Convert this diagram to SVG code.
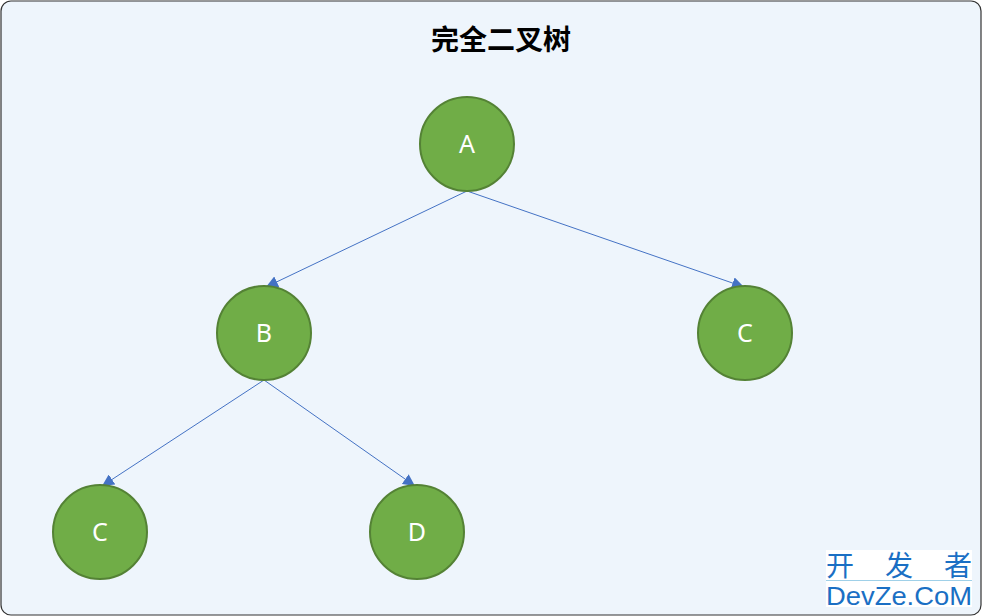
<svg xmlns="http://www.w3.org/2000/svg" width="982" height="616" viewBox="0 0 982 616">
<style>
.node circle{fill:#70ad47;stroke:#548235;stroke-width:2}
.node text{fill:#fff;font-family:"Noto Sans","Open Sans",sans-serif;font-size:25px;text-anchor:middle}
.edge{stroke:#4472c4;stroke-width:1;fill:none;marker-end:url(#arr)}
.title{font-family:"Noto Sans CJK SC",sans-serif;font-weight:bold;font-size:28px;text-anchor:middle;fill:#000}
.wm{fill:#1a6fc4}
</style>
<defs>
<marker id="arr" viewBox="0 0 10 10" refX="10" refY="5" markerWidth="12" markerHeight="12" markerUnits="userSpaceOnUse" orient="auto">
<path d="M0,0 L10,5 L0,10 z" fill="#4472c4"/>
</marker>
</defs>
<rect x="1" y="1" width="980" height="614" rx="10" fill="#eef5fc" stroke="#333" stroke-width="1.2"/>
<text class="title" x="501" y="50">完全二叉树</text>
<g id="connectors">
<line class="edge" x1="467" y1="191" x2="266" y2="287"/>
<line class="edge" x1="467" y1="191" x2="744" y2="287"/>
<line class="edge" x1="264" y1="380" x2="102" y2="486"/>
<line class="edge" x1="264" y1="380" x2="415" y2="486"/>
</g>
<g id="node-A" class="node"><circle cx="467" cy="144" r="47"/><text x="467" y="153">A</text></g>
<g id="node-B" class="node"><circle cx="264" cy="333" r="47"/><text x="264" y="342">B</text></g>
<g id="node-C1" class="node"><circle cx="745" cy="333" r="47"/><text x="745" y="342">C</text></g>
<g id="node-C2" class="node"><circle cx="100" cy="532" r="47"/><text x="100" y="541">C</text></g>
<g id="node-D" class="node"><circle cx="417" cy="532" r="47"/><text x="417" y="541">D</text></g>
<g id="watermark">
<rect x="826" y="550" width="146" height="57" fill="#fff"/>
<text class="wm" x="826" y="576" font-size="28" font-family="'Noto Sans CJK SC',sans-serif" textLength="146" lengthAdjust="spacing">开 发 者</text>
<line x1="826" y1="580.5" x2="972" y2="580.5" stroke="#9fd0e8" stroke-width="1"/>
<text class="wm" x="826" y="605" font-size="25" font-family="'Liberation Sans',sans-serif" textLength="146" lengthAdjust="spacingAndGlyphs">DevZe.CoM</text>
</g>
</svg>
